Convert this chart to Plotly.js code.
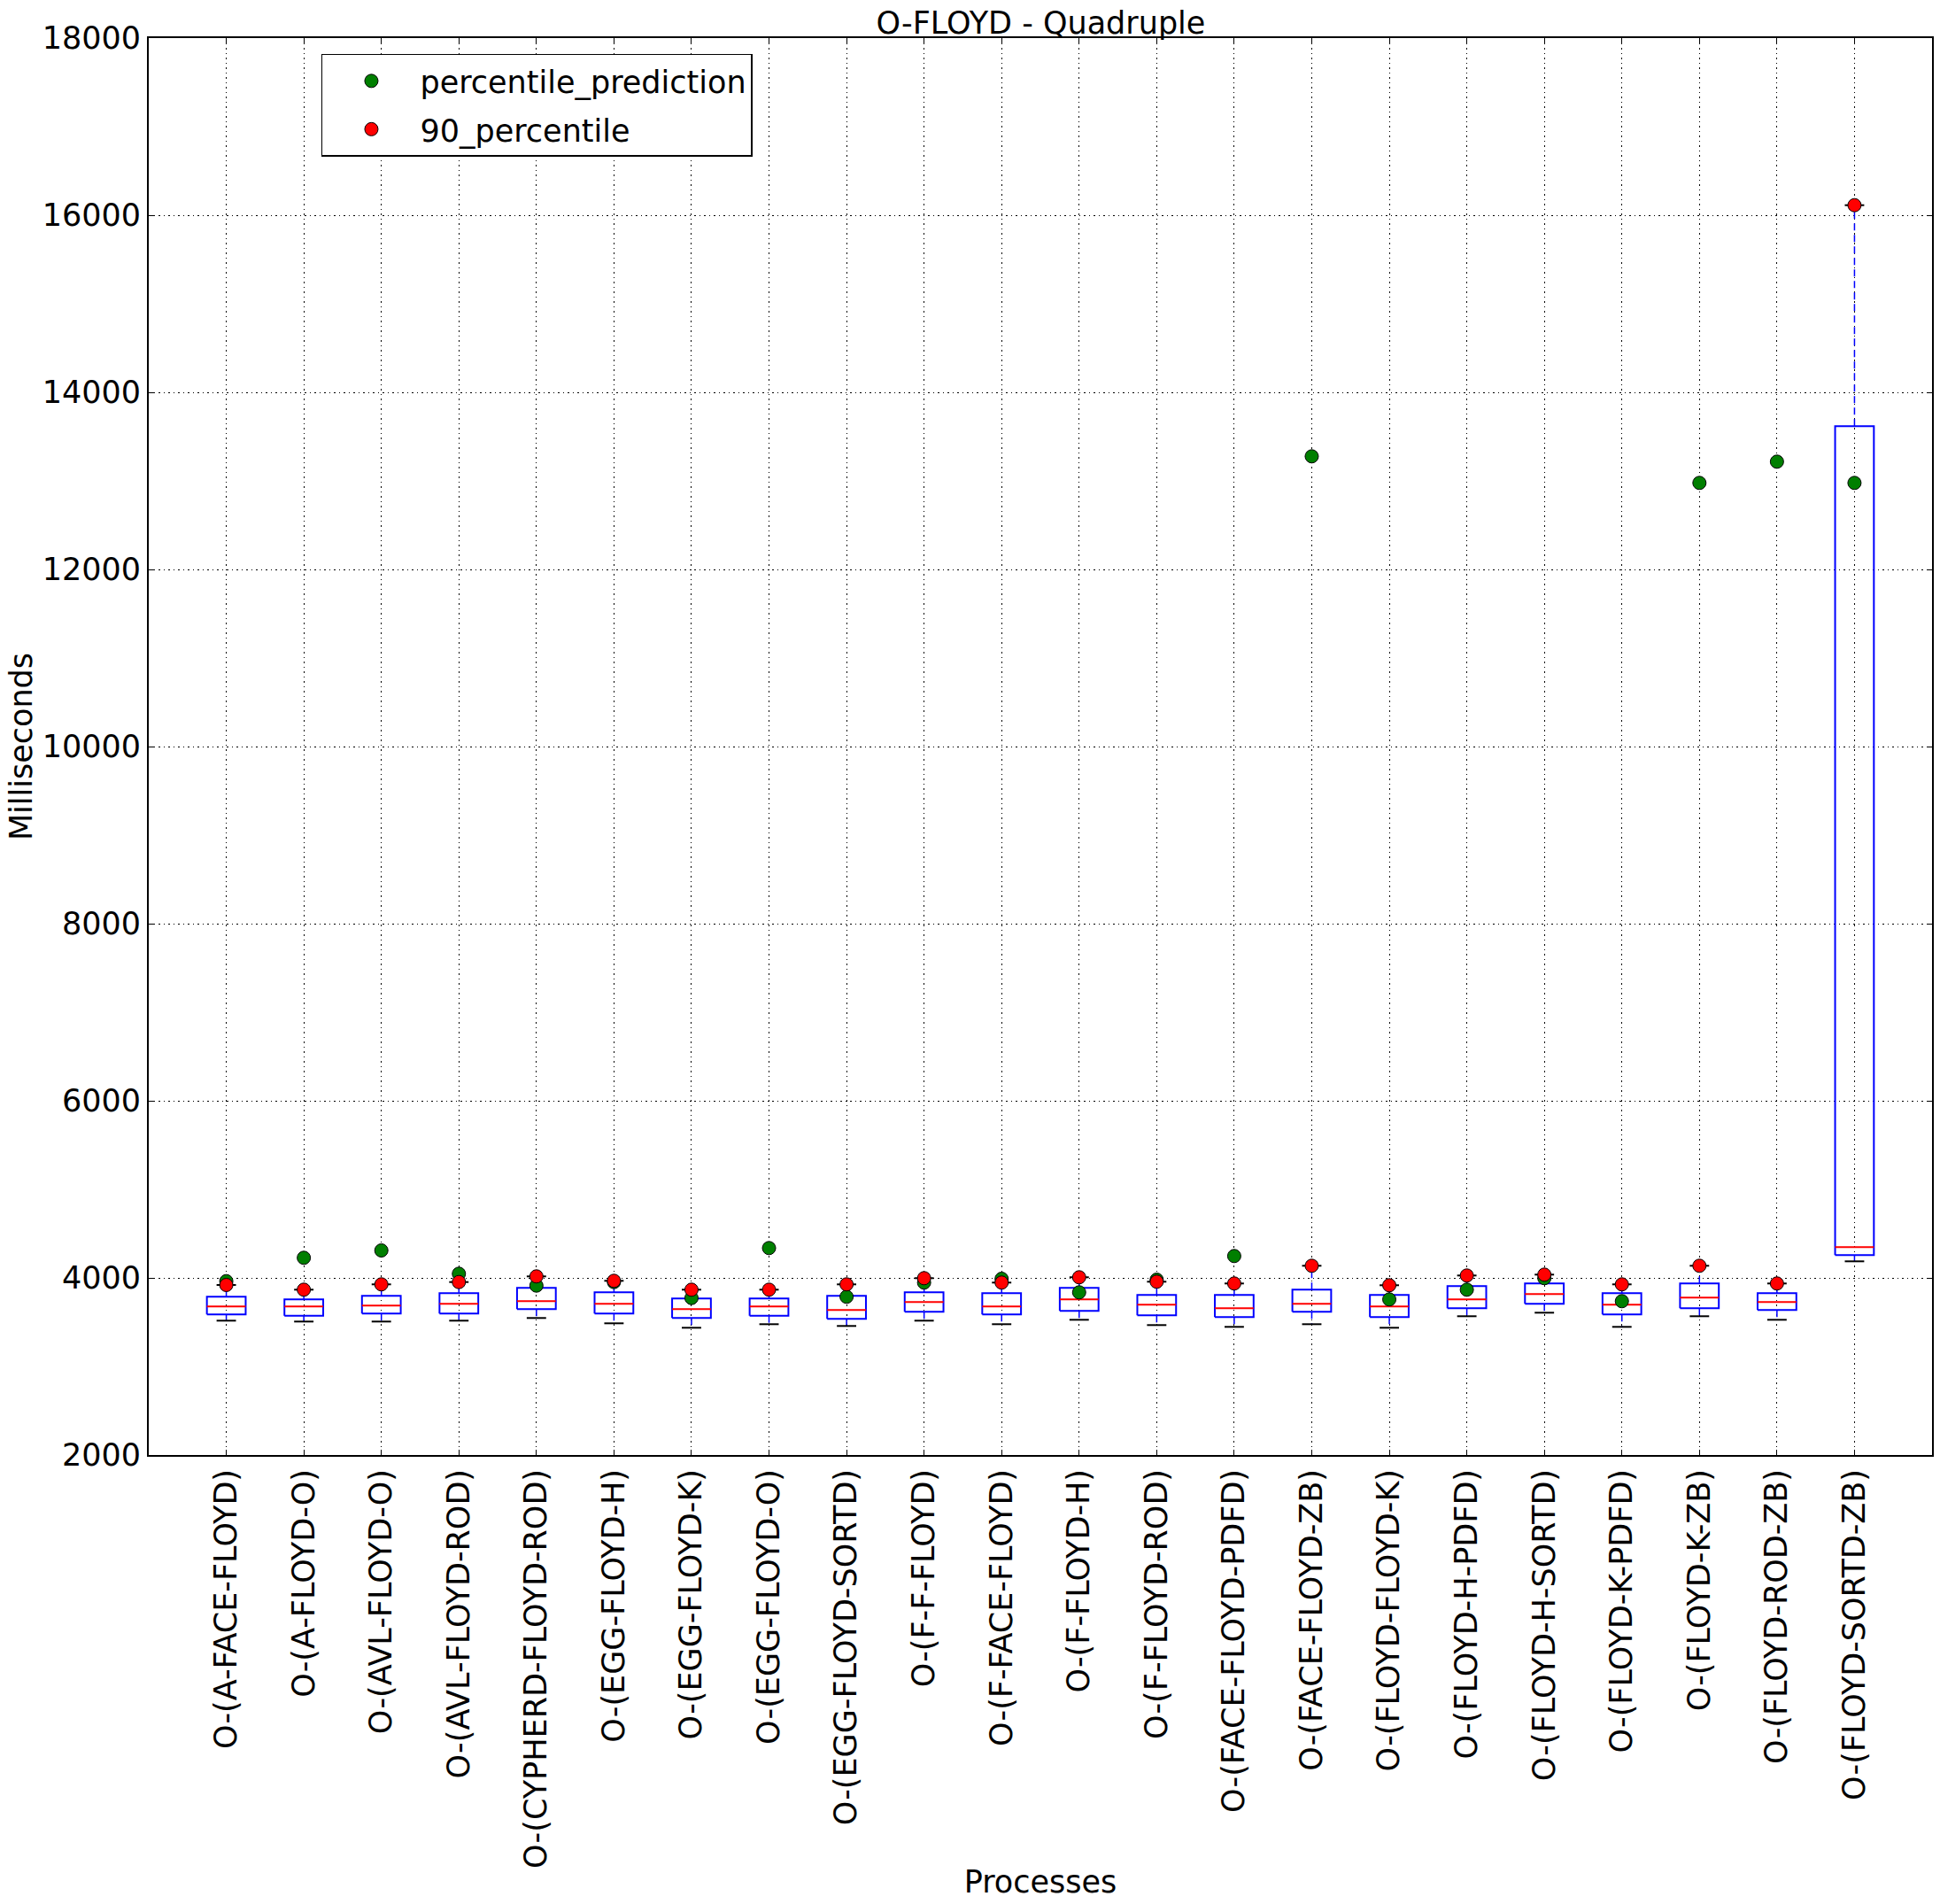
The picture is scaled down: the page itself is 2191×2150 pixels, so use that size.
<!DOCTYPE html>
<html>
<head>
<meta charset="utf-8">
<script src="https://cdn.plot.ly/plotly-3.0.1.min.js"></script>
<style>html,body{margin:0;padding:0;background:#fff;}#chart{width:2191px;height:2150px;}</style>
</head>
<body>
<div id="chart"></div>
<script>
// ---- data ----
const processes = [
  "O-(A-FACE-FLOYD)", "O-(A-FLOYD-O)", "O-(AVL-FLOYD-O)", "O-(AVL-FLOYD-ROD)",
  "O-(CYPHERD-FLOYD-ROD)", "O-(EGG-FLOYD-H)", "O-(EGG-FLOYD-K)", "O-(EGG-FLOYD-O)",
  "O-(EGG-FLOYD-SORTD)", "O-(F-F-FLOYD)", "O-(F-FACE-FLOYD)", "O-(F-FLOYD-H)",
  "O-(F-FLOYD-ROD)", "O-(FACE-FLOYD-PDFD)", "O-(FACE-FLOYD-ZB)", "O-(FLOYD-FLOYD-K)",
  "O-(FLOYD-H-PDFD)", "O-(FLOYD-H-SORTD)", "O-(FLOYD-K-PDFD)", "O-(FLOYD-K-ZB)",
  "O-(FLOYD-ROD-ZB)", "O-(FLOYD-SORTD-ZB)"
];
const whiskerLow = [3517, 3507, 3507, 3517, 3547, 3487, 3437, 3477, 3457, 3517, 3477, 3527, 3467, 3447, 3477, 3437, 3567, 3607, 3447, 3567, 3527, 4187];
const q1         = [3587, 3573, 3597, 3597, 3647, 3597, 3547, 3573, 3537, 3617, 3587, 3627, 3577, 3557, 3617, 3557, 3657, 3707, 3587, 3657, 3637, 4257];
const medians    = [3677, 3677, 3687, 3707, 3737, 3707, 3647, 3677, 3637, 3727, 3677, 3757, 3697, 3657, 3707, 3677, 3757, 3817, 3697, 3777, 3727, 4347];
const q3         = [3787, 3757, 3797, 3827, 3887, 3837, 3767, 3767, 3797, 3837, 3827, 3887, 3807, 3807, 3867, 3807, 3907, 3937, 3827, 3937, 3827, 13617];
const percentile90 = [3920, 3867, 3927, 3953, 4017, 3967, 3867, 3867, 3927, 3997, 3947, 4007, 3957, 3937, 4137, 3917, 4027, 4037, 3927, 4137, 3937, 16113];
const percentilePrediction = [3963, 4227, 4310, 4047, 3913, 3953, 3773, 4337, 3787, 3947, 3990, 3837, 3980, 4247, 13277, 3757, 3867, 3997, 3737, 12977, 13217, 12977];
const yTicks = [2000, 4000, 6000, 8000, 10000, 12000, 14000, 16000, 18000];

// ---- build box geometry from data ----
const pos = processes.map((_, i) => i + 1);
const BW = 0.25, CW = 0.125;
const boxX = [], boxY = [], medX = [], medY = [], whX = [], whY = [], capX = [], capY = [];
pos.forEach((p, i) => {
  boxX.push(p - BW, p + BW, p + BW, p - BW, p - BW, null);
  boxY.push(q1[i], q1[i], q3[i], q3[i], q1[i], null);
  medX.push(p - BW, p + BW, null);
  medY.push(medians[i], medians[i], null);
  whX.push(p, p, null, p, p, null);
  whY.push(q3[i], percentile90[i], null, q1[i], whiskerLow[i], null);
  capX.push(p - CW, p + CW, null, p - CW, p + CW, null);
  capY.push(percentile90[i], percentile90[i], null, whiskerLow[i], whiskerLow[i], null);
});

const FONT = "DejaVu Sans, Liberation Sans, sans-serif";
const FS = 35;

const traces = [
  {x: whX, y: whY, mode: "lines", line: {color: "#0000ff", width: 1.5, dash: "8px,5px"}, showlegend: false, hoverinfo: "skip"},
  {x: capX, y: capY, mode: "lines", line: {color: "#000000", width: 2}, showlegend: false, hoverinfo: "skip"},
  {x: boxX, y: boxY, mode: "lines", line: {color: "#0000ff", width: 2}, showlegend: false, hoverinfo: "skip"},
  {x: medX, y: medY, mode: "lines", line: {color: "#ff0000", width: 2}, showlegend: false, hoverinfo: "skip"},
  {x: pos, y: percentilePrediction, mode: "markers", name: "percentile_prediction", legendgroup: "g1",
   marker: {color: "#007f00", size: 15, line: {color: "#000000", width: 1}}},
  {x: pos, y: percentile90, mode: "markers", name: "90_percentile", legendgroup: "g2",
   marker: {color: "#ff0000", size: 15, line: {color: "#000000", width: 1}}}
];

const layout = {
  width: 2191, height: 2150,
  paper_bgcolor: "#ffffff", plot_bgcolor: "#ffffff",
  font: {family: FONT, size: FS, color: "#000000"},
  margin: {l: 168, r: 9, t: 43, b: 507, pad: 0},
  title: {text: "O-FLOYD - Quadruple", font: {family: FONT, size: FS, color: "#000"},
          x: 0.5365, xanchor: "center", y: 1 - 26/2150, yanchor: "middle", yref: "container"},
  showlegend: true,
  legend: {x: 0.0968, y: 0.989, xanchor: "left", yanchor: "top",
           bgcolor: "#ffffff", bordercolor: "#000000", borderwidth: 1.5,
           traceorder: "grouped", tracegroupgap: 6,
           font: {family: FONT, size: FS, color: "#000"}, itemwidth: 100},
  xaxis: {
    range: [0, 23], tickmode: "array", tickvals: pos, ticktext: processes, tickangle: -90,
    ticks: "inside", ticklen: 6, tickcolor: "#000", mirror: "allticks",
    showline: true, linecolor: "#000", linewidth: 2,
    showgrid: true, gridcolor: "#000000", gridwidth: 1, griddash: "1.5px,4px",
    zeroline: false, tickfont: {family: FONT, size: FS, color: "#000"},
    title: {text: "Processes", font: {family: FONT, size: FS, color: "#000"}, standoff: 4},
    automargin: false
  },
  yaxis: {
    range: [2000, 18000], tickmode: "array", tickvals: yTicks, tickformat: "d",
    ticks: "inside", ticklen: 6, tickcolor: "#000", mirror: "allticks",
    showline: true, linecolor: "#000", linewidth: 2,
    showgrid: true, gridcolor: "#000000", gridwidth: 1, griddash: "1.5px,4px",
    zeroline: false, tickfont: {family: FONT, size: FS, color: "#000"},
    title: {text: "Milliseconds", font: {family: FONT, size: FS, color: "#000"}, standoff: 0},
    automargin: false
  }
};

Plotly.newPlot("chart", traces, layout, {displayModeBar: false, staticPlot: true});
</script>
</body>
</html>
